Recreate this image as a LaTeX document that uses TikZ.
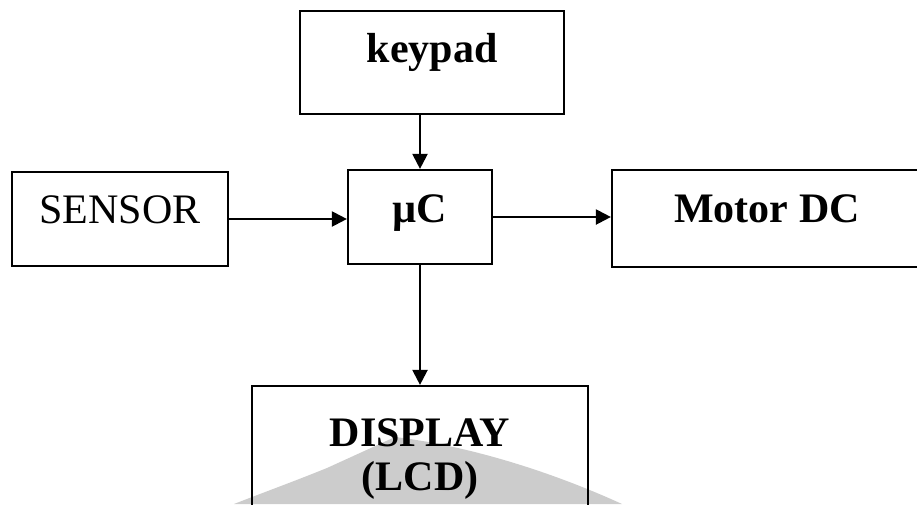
\documentclass[tikz,border=0pt]{standalone}
\usepackage{fontspec}
\setmainfont{Liberation Serif}
\usetikzlibrary{arrows.meta}
\begin{document}
\begin{tikzpicture}[x=1pt,y=-1pt,
  blk/.style={draw=black, line width=2.2pt, rectangle, inner sep=0pt},
  lbl/.style={font=\fontsize{42}{46}\selectfont\bfseries, anchor=base, inner sep=0pt},
  rlbl/.style={font=\fontsize{42}{46}\selectfont, anchor=base, inner sep=0pt},
  conn/.style={line width=2.2pt, -{Triangle[length=15pt,width=15pt]}}]
\clip (0,0) rectangle (917,504);
\fill[white] (0,0) rectangle (917,504);
% watermark
\fill[black!20] (234,504) .. controls (262,493) and (295,481) .. (327,468) -- (395,437) .. controls (470,446) and (552,472) .. (622,504) -- cycle;
% boxes
\node[blk, minimum width=264pt, minimum height=103pt] (kp) at (432,62.5) {};
\node[blk, minimum width=216pt, minimum height=94pt] (sn) at (120,219) {};
\node[blk, minimum width=144pt, minimum height=94pt] (mc) at (420,217) {};
\node[blk, minimum width=310pt, minimum height=97pt] (mt) at (767,218.5) {};
\node[blk, minimum width=336pt, minimum height=174pt] (dp) at (420,473) {};
% labels
\node[lbl] (kpt) at (432,62) {keypad};
\node[rlbl] (snt) at (120,223) {SENSOR};
\node[lbl] (mct) at (420,222) {µC};
\node[lbl] (mtt) at (767,222) {Motor DC};
\node[lbl] (dpt1) at (420,446) {DISPLAY};
\node[lbl] (dpt2) at (420,490) {(LCD)};
% connectors
\draw[conn] (kp.south -| mc.north) -- (mc.north);
\draw[conn] (sn.east) -- (sn.east -| mc.west);
\draw[conn] (mc.east) -- (mc.east -| mt.west);
\draw[conn] (mc.south) -- (dp.north);
\end{tikzpicture}
\end{document}
